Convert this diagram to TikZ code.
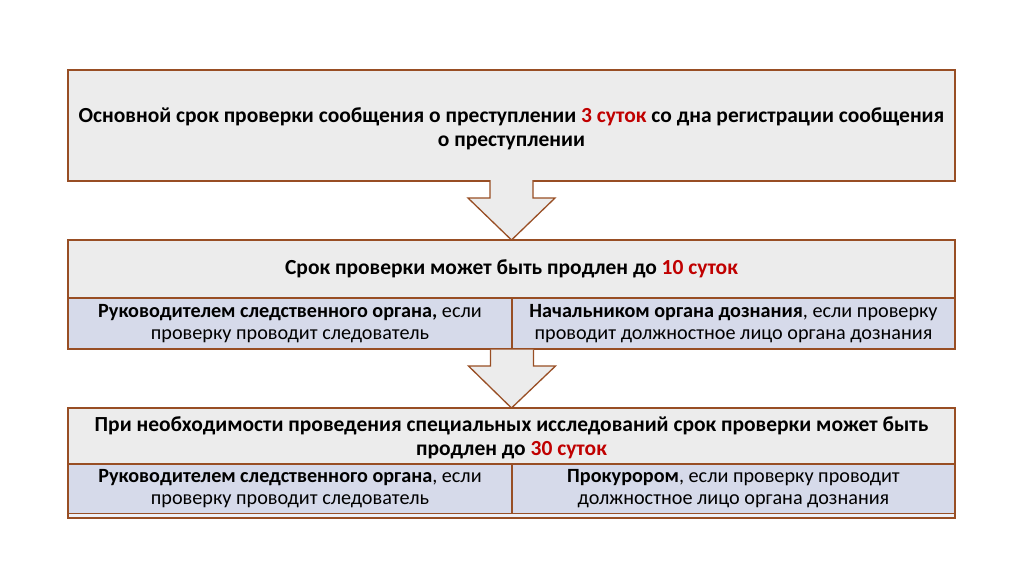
\documentclass[tikz,border=0pt]{standalone}
\usepackage{fontspec}
\setmainfont{Carlito}
\usetikzlibrary{calc}
\definecolor{brd}{RGB}{152,78,36}
\definecolor{grayfill}{RGB}{236,236,236}
\definecolor{lav}{RGB}{214,218,234}
\definecolor{redtxt}{RGB}{192,0,0}
\tikzset{
  cell/.style={draw=brd, line width=1.3pt, inner sep=0pt, outer sep=0pt, align=center, font=\fontsize{20.2}{22}\selectfont},
  hdr/.style={cell, fill=grayfill, font=\fontsize{21.5}{24}\selectfont\bfseries},
  hdrtxt/.style={inner sep=0pt, align=center, font=\fontsize{21.5}{24}\selectfont\bfseries},
  sub/.style={cell, fill=lav},
  blockarrow/.style={draw=brd, line width=1.3pt, fill=grayfill, line join=miter}
}
\begin{document}
\begin{tikzpicture}[x=1pt,y=-1pt]
\useasboundingbox (0,0) rectangle (1024,574);
% box 1
\node[hdr, minimum width=887pt, minimum height=111pt] (b1) at (511.5,125.5) {};
\node[hdrtxt] (t1) at ($(b1.center)+(0,3)$)
  {Основной срок проверки сообщения о преступлении \textcolor{redtxt}{3 суток} со дна регистрации сообщения\\ о преступлении};
% box 2
\node[hdr, minimum width=887pt, minimum height=58pt] (b2) at (511.5,269)
  {Срок проверки может быть продлен до \textcolor{redtxt}{10 суток}};
\node[sub, minimum width=444pt, minimum height=51pt, anchor=north west] (b2l) at (b2.south west)
  {\textbf{Руководителем следственного органа,} если\\ проверку проводит следователь};
\node[sub, minimum width=443pt, minimum height=51pt, anchor=north east] (b2r) at (b2.south east)
  {\textbf{Начальником органа дознания}, если проверку\\ проводит должностное лицо органа дознания};
% box 3
\node[hdr, minimum width=887pt, minimum height=56pt] (b3) at (511.5,436) {};
\node[hdrtxt] (t3) at ($(b3.center)+(0,2)$)
  {При необходимости проведения специальных исследований срок проверки может быть\\ продлен до \textcolor{redtxt}{30 суток}};
\node[sub, minimum width=444pt, minimum height=50pt, anchor=north west] (b3l) at (b3.south west)
  {\textbf{Руководителем следственного органа}, если\\ проверку проводит следователь};
\node[sub, minimum width=443pt, minimum height=50pt, anchor=north east] (b3r) at (b3.south east)
  {\textbf{Прокурором}, если проверку проводит\\ должностное лицо органа дознания};
\draw[brd, line width=1.3pt, fill=lav!40] (b3l.south west) -- ($(b3l.south west)+(0,4)$) -- ($(b3r.south east)+(0,4)$) -- (b3r.south east);
% arrows
\draw[blockarrow] ($(b1.south)+(-21.5,-1)$) -- ($(b1.south)+(-21.5,17)$) -- ($(b1.south)+(-43.5,17)$)
  -- (b2.north) -- ($(b1.south)+(43.5,17)$) -- ($(b1.south)+(21.5,17)$) -- ($(b1.south)+(21.5,-1)$);
\draw[blockarrow] ($(b2l.south east)+(-21.5,0.7)$) -- ($(b2l.south east)+(-21.5,17)$) -- ($(b2l.south east)+(-43.5,17)$)
  -- (b3.north) -- ($(b2l.south east)+(43.5,17)$) -- ($(b2l.south east)+(21.5,17)$) -- ($(b2l.south east)+(21.5,0.7)$);
\end{tikzpicture}
\end{document}
